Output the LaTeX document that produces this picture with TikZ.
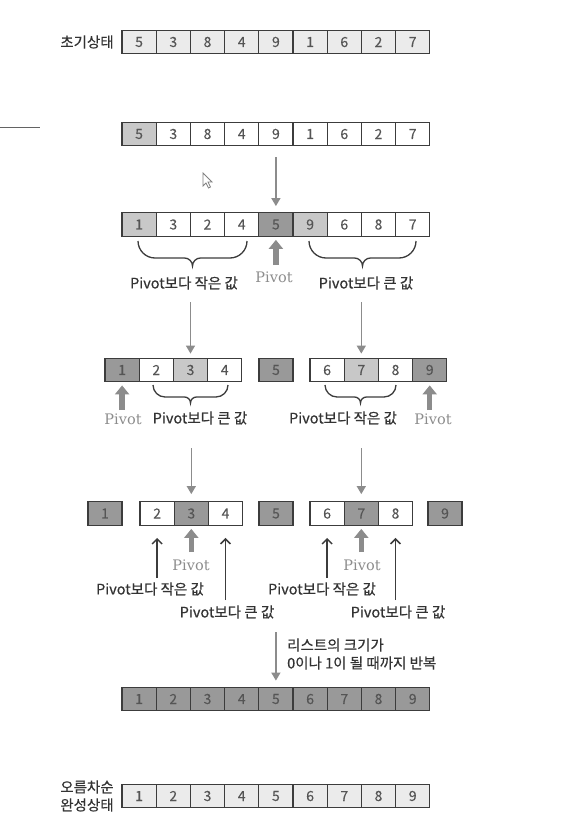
\documentclass[tikz,border=0pt]{standalone}
\usepackage{fontspec}
\newfontfamily\kr[FakeBold=0.2]{Noto Sans CJK KR}
\newfontfamily\krm[FakeBold=0.5]{Noto Sans CJK KR}
\newfontfamily\pivfont{DejaVu Serif}
\usetikzlibrary{arrows.meta,calc}
\definecolor{ce}{HTML}{EBEBEB}
\definecolor{cl}{HTML}{C8C8C8}
\definecolor{cd}{HTML}{999999}
\definecolor{cw}{HTML}{FFFFFF}
\definecolor{bd}{HTML}{3C3C3C}
\definecolor{tx}{HTML}{555555}
\definecolor{ag}{HTML}{8C8C8C}
\newcommand\BraceAt[5]{% x1, x2, y0, r, t
  \draw[brc] (#1,#3) .. controls (#1,{#3+0.55*#4}) and ({#1+0.45*#4},{#3+#4}) .. ({#1+#4},{#3+#4})
    -- ({(#1+#2)/2-#5},{#3+#4}) .. controls ({(#1+#2)/2-0.45*#5},{#3+#4}) and ({(#1+#2)/2},{#3+#4+0.45*#5}) .. ({(#1+#2)/2},{#3+#4+#5})
    .. controls ({(#1+#2)/2},{#3+#4+0.45*#5}) and ({(#1+#2)/2+0.45*#5},{#3+#4}) .. ({(#1+#2)/2+#5},{#3+#4})
    -- ({#2-#4},{#3+#4}) .. controls ({#2-0.45*#4},{#3+#4}) and (#2,{#3+0.55*#4}) .. (#2,#3);}
\begin{document}
\begin{tikzpicture}[x=1pt,y=-1pt,
  cell/.style={draw=bd, line width=1.3pt, minimum width=34.2pt, minimum height=23.5pt, inner sep=0pt,
    font=\kr\fontsize{14}{14}\selectfont, text=tx},
  lbl/.style={font=\krm\fontsize{14.5}{18}\selectfont, text=black!80, inner sep=0pt},
  piv/.style={font=\pivfont\fontsize{14.5}{14.5}\selectfont, text=ag, inner sep=0pt},
  flow/.style={draw=ag, line width=1.4pt, -{Triangle[width=9pt,length=8pt]}},
  pivarrow/.style={draw=ag, line width=5.5pt, -{Triangle[width=14pt,length=9pt]}},
  ptr/.style={draw=bd, line width=1.5pt, -{Straight Barb[width=10pt,length=5pt]}},
  brc/.style={draw=bd, line width=1.3pt}]
\useasboundingbox (0,0) rectangle (561,829);

% decorative line and cursor
\draw[bd!80, line width=1pt] (0,128) -- (40,128);
\draw[fill=white, draw=gray, line width=0.8pt] (203,173) -- (203,186) -- (206,183) -- (208.5,188) -- (210.5,187) -- (208,182) -- (212,182) -- cycle;

% row 1
\node[lbl] (l1) at (87,42) {초기상태};
\foreach \v [count=\i] in {5,3,8,4,9,1,6,2,7}
  \node[cell, fill=ce] (r1c\i) at ({122+34.2*(\i-0.5)},42) {\v};

% row 2
\foreach \v/\f [count=\i] in {5/cl,3/cw,8/cw,4/cw,9/cw,1/cw,6/cw,2/cw,7/cw}
  \node[cell, fill=\f] (r2c\i) at ({122+34.2*(\i-0.5)},134) {\v};

% row 3
\foreach \v/\f [count=\i] in {1/cl,3/cw,2/cw,4/cw,5/cd,9/cl,6/cw,8/cw,7/cw}
  \node[cell, fill=\f] (r3c\i) at ({122+34.2*(\i-0.5)},224.5) {\v};

% row 4
\foreach \v/\f/\xx [count=\i] in {1/cd/122.1,2/cw/156.3,3/cl/190.5,4/cw/224.7,5/cd/276,6/cw/327.1,7/cl/361.3,8/cw/395.5,9/cd/429.7}
  \node[cell, fill=\f] (r4c\i) at (\xx,370) {\v};

% row 5
\foreach \v/\f/\xx [count=\i] in {1/cd/105,2/cw/157.1,3/cd/191.3,4/cw/225.5,5/cd/276,6/cw/327.1,7/cd/361.3,8/cw/395.5,9/cd/445}
  \node[cell, fill=\f] (r5c\i) at (\xx,513.5) {\v};

% row 6
\foreach \v [count=\i] in {1,...,9}
  \node[cell, fill=cd] (r6c\i) at ({122+34.2*(\i-0.5)},699) {\v};

% row 7
\node[lbl, align=center] (l7) at (87,796) {오름차순\\완성상태};
\foreach \v [count=\i] in {1,...,9}
  \node[cell, fill=ce] (r7c\i) at ({122+34.2*(\i-0.5)},796) {\v};

% flow arrows
\path (0,302) coordinate (y302) (0,448) coordinate (y448) (0,632) coordinate (y632)
      (0,265) coordinate (y265) (0,410) coordinate (y410) (0,552) coordinate (y552)
      (0,578) coordinate (y578) (0,600) coordinate (y600);
\draw[flow, shorten <=11pt, shorten >=6pt] (r2c5) -- (r3c5);
\coordinate (s3l) at (r4c3 |- y302);
\coordinate (s3r) at (r4c7 |- y302);
\draw[flow, shorten >=4pt] (s3l) -- (r4c3.north);
\draw[flow, shorten >=4pt] (s3r) -- (r4c7.north);
\coordinate (s4l) at (r5c3 |- y448);
\coordinate (s4r) at (r5c7 |- y448);
\draw[flow, shorten >=7pt] (s4l) -- (r5c3.north);
\draw[flow, shorten >=7pt] (s4r) -- (r5c7.north);
\coordinate (s5) at (r6c5 |- y632);
\draw[flow, shorten >=6pt] (s5) -- (r6c5.north);
\node[lbl, anchor=west, align=left] (rep) at (287,654) {리스트의 크기가\\0이나 1이 될 때까지 반복};

% row 3 pivot and braces
\coordinate (p3) at (r3c5 |- y265);
\draw[pivarrow, shorten >=3pt] (p3) -- (r3c5.south);
\node[piv] (pt3) at (274,277) {Pivot};
\BraceAt{138}{247}{241}{17}{8}
\BraceAt{309}{416}{241}{17}{8}
\node[lbl] (t3a) at (184,283) {Pivot보다 작은 값};
\node[lbl] (t3b) at (366,283) {Pivot보다 큰 값};

% row 4 pivots and braces
\coordinate (p4l) at (r4c1 |- y410);
\coordinate (p4r) at (r4c9 |- y410);
\draw[pivarrow, shorten >=3pt] (p4l) -- (r4c1.south);
\draw[pivarrow, shorten >=3pt] (p4r) -- (r4c9.south);
\node[piv] (pt4l) at (123,419) {Pivot};
\node[piv] (pt4r) at (433,419) {Pivot};
\BraceAt{153}{228}{385}{12}{6}
\BraceAt{325}{396}{385}{12}{6}
\node[lbl] (t4a) at (200,418) {Pivot보다 큰 값};
\node[lbl] (t4b) at (343,418) {Pivot보다 작은 값};

% row 5 pivots and pointers
\coordinate (p5l) at (r5c3 |- y552);
\coordinate (p5r) at (r5c7 |- y552);
\draw[pivarrow, shorten >=3pt] (p5l) -- (r5c3.south);
\draw[pivarrow, shorten >=3pt] (p5r) -- (r5c7.south);
\node[piv] (pt5l) at (191,565) {Pivot};
\node[piv] (pt5r) at (362,565) {Pivot};
\coordinate (q2) at (r5c2 |- y578);
\coordinate (q4) at (r5c4 |- y600);
\coordinate (q6) at (r5c6 |- y578);
\coordinate (q8) at (r5c8 |- y600);
\draw[ptr, shorten >=12pt] (q2) -- (r5c2.south);
\draw[ptr, shorten >=12pt] (q4) -- (r5c4.south);
\draw[ptr, shorten >=12pt] (q6) -- (r5c6.south);
\draw[ptr, shorten >=12pt] (q8) -- (r5c8.south);
\node[lbl] (t5a) at (150,589) {Pivot보다 작은 값};
\node[lbl] (t5b) at (227,612) {Pivot보다 큰 값};
\node[lbl] (t5c) at (322,589) {Pivot보다 작은 값};
\node[lbl] (t5d) at (398,612) {Pivot보다 큰 값};
\end{tikzpicture}
\end{document}
